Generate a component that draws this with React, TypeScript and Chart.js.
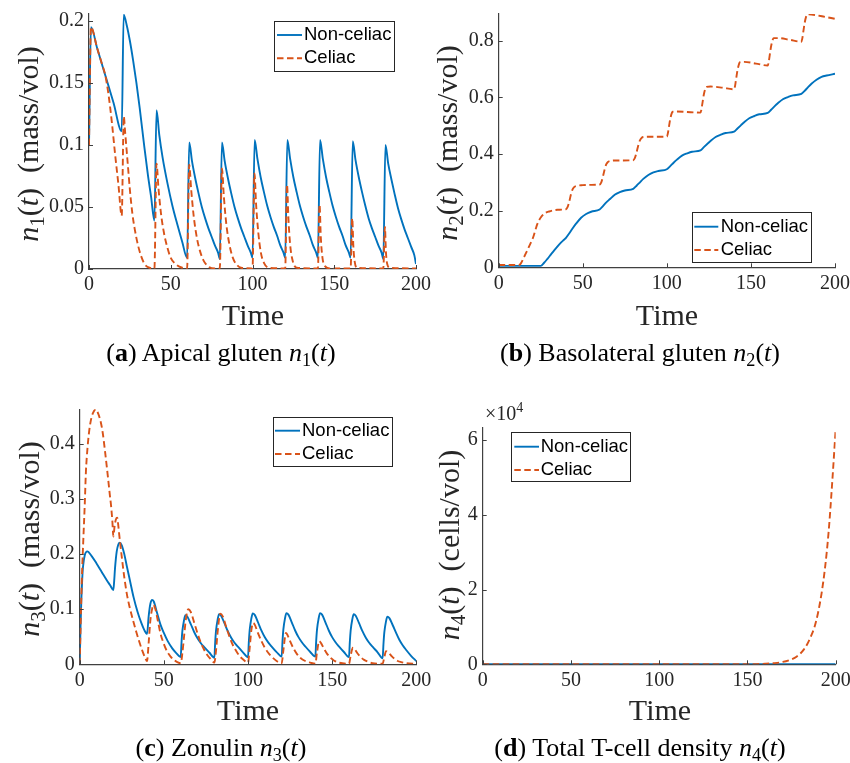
import React, { useEffect, useRef } from "react";
import { Chart, registerables } from "chart.js";

Chart.register(...registerables);

type Pt = [number, number];

const BLUE = "#0072BD";
const ORANGE = "#D95319";
const AXIS = "#404040";
const TEXT = "#262626";
const SERIF = "'Liberation Serif', 'Times New Roman', serif";
const SANS = "'Liberation Sans', Arial, sans-serif";

const SERIES_LABELS = ["Non-celiac", "Celiac"];

const TIME_TICKS = [0, 50, 100, 150, 200];
const TIME_TICK_LABELS = ["0", "50", "100", "150", "200"];

const A_Y_TICKS = [0, 0.05, 0.1, 0.15, 0.2];
const A_Y_LABELS = ["0", "0.05", "0.1", "0.15", "0.2"];
const B_Y_TICKS = [0, 0.2, 0.4, 0.6, 0.8];
const B_Y_LABELS = ["0", "0.2", "0.4", "0.6", "0.8"];
const C_Y_TICKS = [0, 0.1, 0.2, 0.3, 0.4];
const C_Y_LABELS = ["0", "0.1", "0.2", "0.3", "0.4"];
const D_Y_TICKS = [0, 20000, 40000, 60000];
const D_Y_LABELS = ["0", "2", "4", "6"];

// (a) Apical gluten n1(t)
const A_NONCELIAC: Pt[] = [
  [0, 0.1], [1.2, 0.195], [5, 0.178], [10, 0.156], [15, 0.134], [20, 0.111],
  [21.2, 0.205], [23, 0.197], [25, 0.184], [27, 0.168], [29, 0.15], [31, 0.13], [33.7, 0.1], [36, 0.076], [38, 0.058], [40, 0.039],
  [41.3, 0.128], [43, 0.108], [45, 0.09], [48, 0.069], [51, 0.051], [54, 0.036], [57, 0.022], [60, 0.009],
  [61.3, 0.102], [63, 0.087], [65, 0.073], [67, 0.061], [69, 0.05], [71, 0.041], [73, 0.033], [75, 0.026], [77, 0.019], [79, 0.013], [80, 0.008],
  [81.3, 0.102], [83, 0.087], [85, 0.073], [87, 0.061], [89, 0.05], [91, 0.041], [93, 0.033], [95, 0.026], [97, 0.019], [99, 0.013], [100, 0.009],
  [101.3, 0.104], [103, 0.089], [105, 0.074], [107, 0.062], [109, 0.051], [111, 0.042], [113, 0.034], [115, 0.027], [117, 0.019], [119, 0.013], [120, 0.009],
  [121.3, 0.104], [123, 0.089], [125, 0.074], [127, 0.062], [129, 0.051], [131, 0.042], [133, 0.034], [135, 0.027], [137, 0.019], [139, 0.013], [140, 0.009],
  [141.3, 0.104], [143, 0.089], [145, 0.074], [147, 0.062], [149, 0.051], [151, 0.042], [153, 0.034], [155, 0.027], [157, 0.019], [159, 0.013], [160, 0.009],
  [161.3, 0.103], [163, 0.088], [165, 0.074], [167, 0.062], [169, 0.051], [171, 0.041], [173, 0.033], [175, 0.026], [177, 0.019], [179, 0.013], [180, 0.008],
  [181.3, 0.1], [183, 0.085], [185, 0.072], [187, 0.06], [189, 0.049], [191, 0.04], [193, 0.032], [195, 0.025], [197, 0.018], [199, 0.011], [200, 0.004],
];
const A_CELIAC: Pt[] = [
  [0, 0.1], [1.2, 0.195], [5, 0.178], [8, 0.165], [10, 0.156], [12, 0.14], [14, 0.118], [16, 0.092], [18, 0.068], [20, 0.043],
  [21.3, 0.123], [22, 0.112], [23, 0.096], [24, 0.08], [25, 0.064], [26.5, 0.045], [28, 0.032], [30, 0.019], [32, 0.01], [34, 0.004], [37, 0.001], [40, 0.0005],
  [41.3, 0.085], [42.5, 0.065], [44, 0.045], [46, 0.028], [48, 0.017], [50, 0.009], [53, 0.004], [57, 0.001], [60, 0.0005],
  [61.3, 0.084], [62.5, 0.064], [64, 0.043], [66, 0.025], [68, 0.014], [70, 0.007], [73, 0.002], [77, 0.0005], [80, 0.0005],
  [81.3, 0.081], [82.5, 0.058], [84, 0.036], [86, 0.019], [88, 0.009], [90, 0.004], [93, 0.001], [100, 0.0005],
  [101.2, 0.077], [102.2, 0.052], [103.5, 0.03], [105, 0.014], [107, 0.005], [110, 0.001], [120, 0.0005],
  [121.1, 0.068], [122, 0.04], [123, 0.02], [124.5, 0.007], [127, 0.001], [140, 0.0005],
  [141, 0.052], [141.8, 0.025], [142.8, 0.009], [144, 0.003], [147, 0.0005], [160, 0.0005],
  [161, 0.041], [161.7, 0.018], [162.5, 0.006], [164, 0.001], [180, 0.0005],
  [181, 0.034], [181.6, 0.014], [182.4, 0.004], [184, 0.001], [200, 0.0005],
];

// (b) Basolateral gluten n2(t)
const B_NONCELIAC: Pt[] = [
  [0, 0.005], [25, 0.005], [27, 0.016], [29, 0.03], [31, 0.045], [33, 0.06], [35, 0.074], [37, 0.087], [39, 0.098], [40, 0.104],
  [42, 0.12], [44, 0.138], [46, 0.154], [49, 0.175], [52, 0.188], [55, 0.196], [60, 0.204],
  [62, 0.216], [64, 0.229], [66, 0.24], [69, 0.256], [72, 0.265], [75, 0.271], [80, 0.277],
  [82, 0.288], [84, 0.3], [86, 0.312], [89, 0.326], [92, 0.335], [95, 0.34], [100, 0.346],
  [102, 0.357], [104, 0.369], [106, 0.38], [109, 0.394], [112, 0.402], [115, 0.408], [120, 0.413],
  [122, 0.424], [124, 0.435], [126, 0.446], [129, 0.46], [132, 0.468], [135, 0.474], [140, 0.479],
  [142, 0.49], [144, 0.501], [146, 0.512], [149, 0.526], [152, 0.534], [155, 0.54], [160, 0.545],
  [162, 0.556], [164, 0.568], [166, 0.579], [169, 0.593], [172, 0.601], [175, 0.607], [180, 0.612],
  [182, 0.623], [184, 0.636], [186, 0.648], [189, 0.662], [192, 0.672], [195, 0.677], [200, 0.683],
];
const B_CELIAC: Pt[] = [
  [0, 0.008], [12, 0.008], [13, 0.012], [15, 0.035], [17, 0.06], [19, 0.085], [20, 0.098], [21, 0.115], [22, 0.135], [23, 0.153], [24, 0.166], [25, 0.176], [27, 0.189], [30, 0.197], [35, 0.203], [40, 0.205],
  [41, 0.213], [42, 0.233], [43, 0.258], [44, 0.276], [45, 0.284], [46, 0.287], [50, 0.29], [55, 0.291], [60, 0.292],
  [61, 0.3], [62, 0.321], [63, 0.345], [64, 0.364], [65, 0.372], [66, 0.375], [70, 0.377], [80, 0.378],
  [81, 0.386], [82, 0.406], [83, 0.43], [84, 0.448], [85, 0.457], [86, 0.46], [90, 0.461], [100, 0.461],
  [100.5, 0.47], [101, 0.487], [102, 0.523], [103, 0.545], [103.5, 0.549], [106, 0.55], [112, 0.548], [120, 0.546],
  [120.5, 0.555], [121, 0.573], [122, 0.61], [123, 0.632], [123.5, 0.637], [126, 0.638], [133, 0.634], [140, 0.628],
  [140.5, 0.638], [141, 0.657], [142, 0.695], [143, 0.719], [143.5, 0.724], [146, 0.725], [153, 0.719], [160, 0.712],
  [160.5, 0.722], [161, 0.741], [162, 0.78], [163, 0.804], [163.5, 0.809], [166, 0.809], [173, 0.803], [180, 0.796],
  [180.5, 0.806], [181, 0.825], [182, 0.864], [183, 0.888], [183.5, 0.893], [186, 0.892], [193, 0.885], [200, 0.877],
];

// (c) Zonulin n3(t)
const C_NONCELIAC: Pt[] = [
  [0, 0], [0.5, 0.07], [1, 0.12], [1.5, 0.155], [2, 0.178], [3, 0.198], [4.5, 0.205], [7, 0.197], [10, 0.183], [13, 0.168], [16, 0.153], [18, 0.144], [20, 0.135],
  [20.5, 0.152], [21, 0.175], [22, 0.205], [23, 0.218], [23.8, 0.221], [25, 0.216], [26.5, 0.2], [28, 0.178], [30, 0.15], [32, 0.122], [34.4, 0.095], [36.5, 0.076], [38.4, 0.062], [40, 0.055],
  [41, 0.088], [42, 0.11], [43, 0.117], [44, 0.114], [46, 0.093], [48, 0.072], [50, 0.057], [52.3, 0.042], [55, 0.029], [57.5, 0.02], [60, 0.013],
  [60.5, 0.0396], [61, 0.0601], [62, 0.0801], [62.8, 0.089], [64, 0.0863], [66, 0.073], [68, 0.0587], [70, 0.0472], [72, 0.0383], [74, 0.0312], [77, 0.0214], [80, 0.012],
  [80.5, 0.0397], [81, 0.061], [82, 0.0819], [82.8, 0.091], [84, 0.0883], [86, 0.0746], [88, 0.0601], [90, 0.0482], [92, 0.0391], [94, 0.0319], [97, 0.0218], [100, 0.013],
  [100.5, 0.0408], [101, 0.0623], [102, 0.0833], [102.8, 0.0925], [104, 0.0897], [106, 0.0759], [108, 0.061], [110, 0.049], [112, 0.0398], [114, 0.0324], [117, 0.0222], [120, 0.014],
  [120.5, 0.0417], [121, 0.063], [122, 0.0837], [122.8, 0.093], [124, 0.0902], [126, 0.0763], [128, 0.0614], [130, 0.0493], [132, 0.04], [134, 0.0326], [137, 0.0223], [140, 0.014],
  [140.5, 0.0417], [141, 0.063], [142, 0.0837], [142.8, 0.093], [144, 0.0902], [146, 0.0763], [148, 0.0614], [150, 0.0493], [152, 0.04], [154, 0.0326], [157, 0.0223], [160, 0.013],
  [160.5, 0.0403], [161, 0.0614], [162, 0.0819], [162.8, 0.091], [164, 0.0883], [166, 0.0746], [168, 0.0601], [170, 0.0482], [172, 0.0391], [174, 0.0319], [177, 0.0218], [180, 0.011],
  [180.5, 0.0374], [181, 0.0578], [182, 0.0779], [182.8, 0.0865], [184, 0.0839], [186, 0.0709], [188, 0.0571], [190, 0.044], [192, 0.034], [194, 0.026], [197, 0.015], [200, 0.006],
];
const C_CELIAC: Pt[] = [
  [0, 0], [0.5, 0.065], [1, 0.125], [1.5, 0.175], [2.2, 0.23], [3, 0.29], [3.7, 0.35], [4.7, 0.395], [5.7, 0.425], [7, 0.448], [8.5, 0.46], [9.7, 0.463], [11, 0.455], [12.5, 0.44], [13.7, 0.42], [15, 0.388], [16.6, 0.345], [18, 0.305], [18.6, 0.289], [19.4, 0.26], [20, 0.232],
  [20.7, 0.25], [21.5, 0.263], [22.3, 0.266], [23, 0.25], [23.5, 0.235], [25, 0.195], [26.5, 0.158], [28, 0.128], [29.5, 0.106], [31.5, 0.082], [33.5, 0.06], [35.5, 0.04], [37.4, 0.023], [39, 0.011], [40, 0.006],
  [41, 0.04], [42, 0.08], [43, 0.1], [43.7, 0.108], [45, 0.1], [46.5, 0.078], [48, 0.056], [50, 0.037], [52, 0.023], [54, 0.014], [56, 0.008], [58, 0.004], [60, 0.002],
  [61, 0.02], [62, 0.05], [63, 0.08], [64.5, 0.1], [66, 0.095], [68, 0.076], [70, 0.056], [72, 0.039], [74, 0.026], [76, 0.016], [78, 0.009], [80, 0.003],
  [81, 0.025], [82, 0.06], [83.5, 0.092], [85, 0.087], [87, 0.068], [89, 0.05], [91, 0.035], [93, 0.024], [95, 0.015], [97, 0.009], [100, 0.003],
  [101, 0.03], [102, 0.062], [103, 0.075], [104, 0.072], [106, 0.056], [108, 0.042], [110, 0.03], [112, 0.021], [114, 0.014], [117, 0.006], [120, 0.002],
  [121, 0.025], [122, 0.05], [122.5, 0.057], [123.5, 0.053], [125, 0.042], [127, 0.029], [129, 0.019], [131, 0.012], [134, 0.006], [137, 0.003], [140, 0.001],
  [141, 0.022], [142.3, 0.042], [143.5, 0.038], [145, 0.029], [147, 0.019], [149, 0.012], [151, 0.007], [154, 0.003], [160, 0.001],
  [161, 0.016], [162.3, 0.03], [163.5, 0.027], [165, 0.02], [167, 0.013], [169, 0.008], [171, 0.005], [174, 0.002], [180, 0.001],
  [181, 0.013], [182, 0.024], [183.2, 0.022], [185, 0.016], [187, 0.01], [189, 0.006], [191, 0.004], [194, 0.002], [200, 0.001],
];

// (d) Total T-cell density n4(t)
const D_NONCELIAC: Pt[] = [[0, 0], [50, 0], [100, 0], [150, 0], [200, 0]];
const D_CELIAC: Pt[] = [
  [0, 0], [50, 0], [100, 0], [150, 10], [155, 50], [160, 140], [165, 300], [170, 630], [175, 1350], [178, 2100], [180, 2900],
  [182, 4000], [184, 5500], [186, 7500], [188, 10000], [190, 13800], [192, 19000], [194, 26000], [196, 35500], [198, 48500], [200, 63000],
];

interface PanelSpec {
  left: number; top: number; w: number; h: number;
  plot: { left: number; top: number; right: number; bottom: number };
  yMax: number; yTicks: number[]; yLabels: string[];
  nc: Pt[]; c: Pt[];
  legend: { box: [number, number, number, number]; rows: [number, number]; line: [number, number]; textX: number };
}

const PANELS: PanelSpec[] = [
  {
    left: 0, top: 0, w: 445, h: 330,
    plot: { left: 89, top: 14, right: 416, bottom: 269 },
    yMax: 0.2056, yTicks: A_Y_TICKS, yLabels: A_Y_LABELS, nc: A_NONCELIAC, c: A_CELIAC,
    legend: { box: [274, 21, 394, 71], rows: [35, 58.3], line: [277, 302], textX: 304 },
  },
  {
    left: 425, top: 0, w: 425, h: 330,
    plot: { left: 73.7, top: 14, right: 410, bottom: 267.3 },
    yMax: 0.894, yTicks: B_Y_TICKS, yLabels: B_Y_LABELS, nc: B_NONCELIAC, c: B_CELIAC,
    legend: { box: [266.7, 212.3, 386, 262.3], rows: [226.7, 250], line: [269.3, 293.3], textX: 295.7 },
  },
  {
    left: 0, top: 380, w: 445, h: 330,
    plot: { left: 79.7, top: 29.3, right: 416.3, bottom: 284.3 },
    yMax: 0.463, yTicks: C_Y_TICKS, yLabels: C_Y_LABELS, nc: C_NONCELIAC, c: C_CELIAC,
    legend: { box: [272.7, 36.7, 392, 86], rows: [50.7, 74], line: [275, 300], textX: 302 },
  },
  {
    left: 425, top: 380, w: 425, h: 330,
    plot: { left: 57.7, top: 47.7, right: 410.7, bottom: 284.3 },
    yMax: 63300, yTicks: D_Y_TICKS, yLabels: D_Y_LABELS, nc: D_NONCELIAC, c: D_CELIAC,
    legend: { box: [86.3, 52.3, 205.7, 101.7], rows: [66.7, 90], line: [89.3, 114], textX: 115.7 },
  },
];

const inwardTicks = {
  id: "inwardTicks",
  afterDraw(chart: any) {
    const { ctx, chartArea } = chart;
    const x = chart.scales.x;
    const y = chart.scales.y;
    ctx.save();
    ctx.strokeStyle = AXIS;
    ctx.lineWidth = 1;
    ctx.beginPath();
    x.ticks.forEach((t: any) => {
      const px = Math.round(x.getPixelForValue(t.value)) + 0.5;
      ctx.moveTo(px, chartArea.bottom);
      ctx.lineTo(px, chartArea.bottom - 4);
    });
    y.ticks.forEach((t: any) => {
      const py = Math.round(y.getPixelForValue(t.value)) + 0.5;
      ctx.moveTo(chartArea.left, py);
      ctx.lineTo(chartArea.left + 4, py);
    });
    ctx.stroke();
    ctx.restore();
  },
};

function makeLegendPlugin(p: PanelSpec) {
  return {
    id: "matlabLegend",
    afterDraw(chart: any) {
      const { ctx } = chart;
      const [x0, y0, x1, y1] = p.legend.box;
      ctx.save();
      ctx.fillStyle = "#ffffff";
      ctx.fillRect(x0, y0, x1 - x0, y1 - y0);
      ctx.strokeStyle = TEXT;
      ctx.lineWidth = 1;
      ctx.setLineDash([]);
      ctx.strokeRect(Math.round(x0) + 0.5, Math.round(y0) + 0.5, Math.round(x1 - x0), Math.round(y1 - y0));
      chart.data.datasets.forEach((ds: any, i: number) => {
        const ry = p.legend.rows[i];
        ctx.beginPath();
        ctx.setLineDash(ds.borderDash || []);
        ctx.strokeStyle = ds.borderColor;
        ctx.lineWidth = ds.borderWidth;
        ctx.moveTo(p.legend.line[0], ry);
        ctx.lineTo(p.legend.line[1], ry);
        ctx.stroke();
        ctx.setLineDash([]);
        ctx.fillStyle = "#000000";
        ctx.font = `18.5px ${SANS}`;
        ctx.textBaseline = "middle";
        ctx.textAlign = "left";
        ctx.fillText(ds.label, p.legend.textX, ry);
      });
      ctx.restore();
    },
  };
}

function buildConfig(p: PanelSpec): any {
  const toXY = (arr: Pt[]) => arr.map(([x, y]) => ({ x, y }));
  const tickFont = { family: SERIF, size: 20 };
  return {
    type: "line",
    data: {
      datasets: [
        {
          label: SERIES_LABELS[0], data: toXY(p.nc), borderColor: BLUE, borderWidth: 1.9,
          pointRadius: 0, fill: false, cubicInterpolationMode: "monotone", order: 1,
        },
        {
          label: SERIES_LABELS[1], data: toXY(p.c), borderColor: ORANGE, borderWidth: 1.9,
          borderDash: [6.5, 3.5], pointRadius: 0, fill: false, cubicInterpolationMode: "monotone", order: 0,
        },
      ],
    },
    options: {
      animation: false,
      responsive: false,
      maintainAspectRatio: false,
      events: [],
      layout: { padding: { left: 0, top: p.plot.top, right: p.w - p.plot.right, bottom: 0 } },
      plugins: { legend: { display: false }, tooltip: { enabled: false }, title: { display: false } },
      scales: {
        x: {
          type: "linear", min: 0, max: 200,
          afterBuildTicks: (s: any) => { s.ticks = TIME_TICKS.map((v) => ({ value: v })); },
          afterFit: (s: any) => { s.height = p.h - p.plot.bottom; s.paddingLeft = 0; s.paddingRight = 0; },
          ticks: {
            autoSkip: false, maxRotation: 0, minRotation: 0, padding: 4, color: TEXT, font: tickFont,
            callback: (_v: any, i: number) => TIME_TICK_LABELS[i],
          },
          grid: { display: false, drawTicks: false },
          border: { display: true, color: AXIS, width: 1.2 },
        },
        y: {
          type: "linear", min: 0, max: p.yMax,
          afterBuildTicks: (s: any) => { s.ticks = p.yTicks.map((v) => ({ value: v })); },
          afterFit: (s: any) => { s.width = p.plot.left; s.paddingTop = 0; s.paddingBottom = 0; },
          ticks: {
            autoSkip: false, padding: 5, color: TEXT, font: tickFont,
            callback: (_v: any, i: number) => p.yLabels[i],
          },
          grid: { display: false, drawTicks: false },
          border: { display: true, color: AXIS, width: 1.2 },
        },
      },
    },
    plugins: [inwardTicks, makeLegendPlugin(p)],
  };
}

function Panel({ spec }: { spec: PanelSpec }) {
  const ref = useRef<HTMLCanvasElement | null>(null);
  useEffect(() => {
    if (!ref.current) return;
    const chart = new Chart(ref.current, buildConfig(spec));
    return () => chart.destroy();
  }, [spec]);
  return (
    <canvas
      ref={ref}
      width={spec.w}
      height={spec.h}
      style={{ position: "absolute", left: spec.left, top: spec.top, width: spec.w, height: spec.h }}
    />
  );
}

const subStyle: React.CSSProperties = { fontSize: "0.7em", verticalAlign: "-0.3em", lineHeight: 0 };
const supStyle: React.CSSProperties = { fontSize: "0.7em", verticalAlign: "0.55em", lineHeight: 0 };

function BaseText({ x, y, size, align = "center", color = TEXT, children }:
  { x: number; y: number; size: number; align?: "center" | "left"; color?: string; children: React.ReactNode }) {
  return (
    <div
      style={{
        position: "absolute", left: x, top: y - 0.8375 * size, fontFamily: SERIF, fontSize: size,
        lineHeight: `${size}px`, whiteSpace: "nowrap", color,
        transform: align === "center" ? "translateX(-50%)" : undefined,
      }}
    >
      {children}
    </div>
  );
}

function YLabel({ cx, cy, children }: { cx: number; cy: number; children: React.ReactNode }) {
  return (
    <div
      style={{
        position: "absolute", left: cx, top: cy, transform: "translate(-50%, -50%) rotate(-90deg)",
        fontFamily: SERIF, fontSize: 30, lineHeight: "30px", whiteSpace: "nowrap", color: TEXT,
      }}
    >
      {children}
    </div>
  );
}

const nOf = (k: string) => (
  <>
    <i>n</i><sub style={subStyle}>{k}</sub>(<i>t</i>)
  </>
);

export default function App() {
  return (
    <div style={{ position: "absolute", left: 0, top: 0, width: 850, height: 763, background: "#ffffff", overflow: "hidden" }}>
      {PANELS.map((p, i) => (
        <Panel key={i} spec={p} />
      ))}

      <YLabel cx={28} cy={144}>{nOf("1")}&nbsp;&nbsp;(mass/vol)</YLabel>
      <YLabel cx={447} cy={143}>{nOf("2")}&nbsp;&nbsp;(mass/vol)</YLabel>
      <YLabel cx={28.7} cy={539}>{nOf("3")}&nbsp;&nbsp;(mass/vol)</YLabel>
      <YLabel cx={448.7} cy={545}>{nOf("4")}&nbsp;&nbsp;(cells/vol)</YLabel>

      <BaseText x={253} y={325} size={30}>Time</BaseText>
      <BaseText x={667} y={325} size={30}>Time</BaseText>
      <BaseText x={248} y={720} size={30}>Time</BaseText>
      <BaseText x={660} y={720} size={30}>Time</BaseText>

      <BaseText x={485} y={420} size={20} align="left">×10<sup style={supStyle}>4</sup></BaseText>

      <BaseText x={221} y={362} size={26} color="#000">(<b>a</b>) Apical gluten {nOf("1")}</BaseText>
      <BaseText x={640} y={362} size={26} color="#000">(<b>b</b>) Basolateral gluten {nOf("2")}</BaseText>
      <BaseText x={221} y={757} size={26} color="#000">(<b>c</b>) Zonulin {nOf("3")}</BaseText>
      <BaseText x={640} y={757} size={26} color="#000">(<b>d</b>) Total T-cell density {nOf("4")}</BaseText>
    </div>
  );
}
